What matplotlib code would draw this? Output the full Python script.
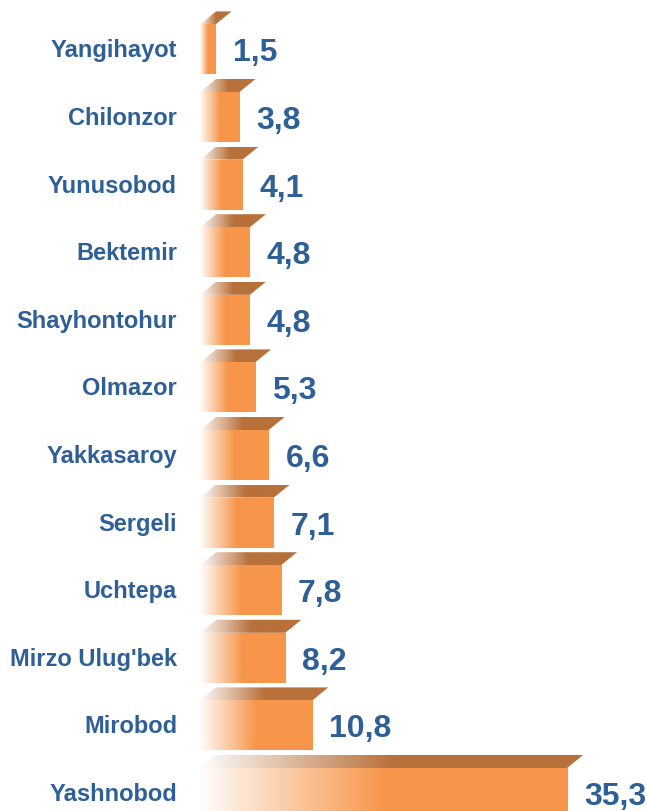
import numpy as np
import matplotlib
matplotlib.use("Agg")
import matplotlib.pyplot as plt
from matplotlib.patches import Polygon
from matplotlib.colors import to_rgb

# district names, bottom to top
districts = ["Yashnobod", "Mirobod", "Mirzo Ulug'bek", "Uchtepa", "Sergeli", "Yakkasaroy",
             "Olmazor", "Shayhontohur", "Bektemir", "Yunusobod", "Chilonzor", "Yangihayot"]
values = [35.3, 10.8, 8.2, 7.8, 7.1, 6.6, 5.3, 4.8, 4.8, 4.1, 3.8, 1.5]
value_labels = ["35,3", "10,8", "8,2", "7,8", "7,1", "6,6", "5,3", "4,8", "4,8", "4,1", "3,8", "1,5"]

front_col = np.array(to_rgb("#F7964A"))
top_col = np.array(to_rgb("#B8713B"))
text_col = "#2F5F97"

W, H = 647, 811
px_x = 10.4    # pixels per unit
px_y = 67.6    # pixels per category
fig = plt.figure(figsize=(W / 100, H / 100), dpi=100)
ax = fig.add_axes([200 / W, 0, (W - 200) / W, 1])
ax.axis("off")

bar_h = 50 / px_y
dx = 16 / px_x   # depth offset of the top face
dy = 13 / px_y


def gradient(color, n=300):
    # white at the left edge, full colour from half the bar length
    t = np.clip(np.linspace(0, 1, n) / 0.5, 0, 1)
    a = 0.02 + 0.98 * t
    rgb = (1 - a)[:, None] * np.ones(3) + a[:, None] * color
    return rgb[None, :, :]


for i, (name, v, lab) in enumerate(zip(districts, values, value_labels)):
    y0 = i - bar_h / 2
    y1 = i + bar_h / 2
    # front face
    ax.imshow(gradient(front_col), extent=(0, v, y0, y1), aspect="auto",
              interpolation="bilinear", zorder=2)
    # top face (parallelogram)
    poly = Polygon([(0, y1), (v, y1), (v + dx, y1 + dy), (dx, y1 + dy)],
                   closed=True, facecolor="none", edgecolor="none")
    ax.add_patch(poly)
    im = ax.imshow(gradient(top_col), extent=(0, v + dx, y1, y1 + dy), aspect="auto",
                   interpolation="bilinear", zorder=2)
    im.set_clip_path(poly)

    ax.text(-23 / px_x, i - 8 / px_y, name, ha="right", va="baseline",
            fontsize=17, fontweight="bold", color=text_col,
            family="Liberation Sans", clip_on=False)
    ax.text(v + 17 / px_x, i - 12 / px_y, lab, ha="left", va="baseline",
            fontsize=23, fontweight="bold", color=text_col,
            family="Liberation Sans", clip_on=False)

ax.set_xlim(0, (W - 200) / px_x)
ax.set_ylim(-18 / px_y, 793 / px_y)
fig.savefig("out.png", dpi=100)
